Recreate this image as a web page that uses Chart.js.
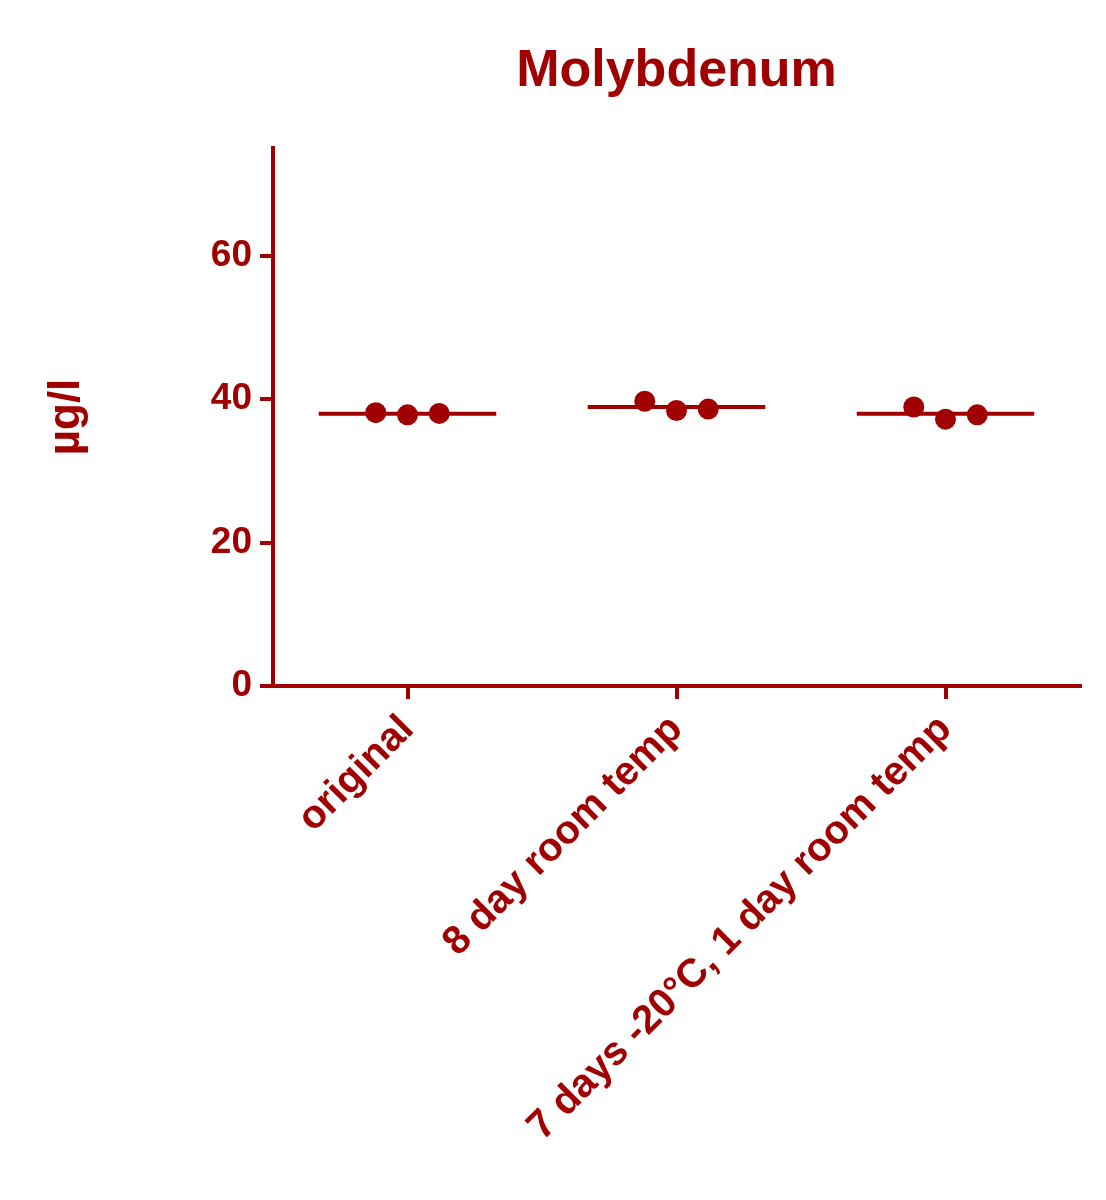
<!DOCTYPE html>
<html>
<head>
<meta charset="utf-8">
<script src="https://cdn.jsdelivr.net/npm/chart.js@4/dist/chart.umd.min.js"></script>
<style>
  html, body { margin: 0; padding: 0; background: #fff; }
  #wrap { width: 1106px; height: 1200px; }
</style>
</head>
<body>
<div id="wrap"><canvas id="chart" width="1106" height="1200"></canvas></div>
<script>
// values
const categories = ["original", "8 day room temp", "7 days -20°C, 1 day room temp"]
const originalValues = [38.1, 37.8, 38.0]
const roomTempValues = [39.7, 38.4, 38.6]
const frozenValues = [38.9, 37.2, 37.8]
const yTickValues = [0, 20, 40, 60]
const yMax = 75

const groups = [originalValues, roomTempValues, frozenValues]

const red = "#a00000"
const font = "'Liberation Sans', Arial, sans-serif"
const jitter = [-0.118, 0, 0.118]
const meanHalfWidth = 0.33

const mean = (values) => values.reduce((a, b) => a + b, 0) / values.length

const dotDataset = {
  type: "scatter",
  data: groups.flatMap((values, i) => values.map((v, j) => ({ x: i + jitter[j], y: v }))),
  backgroundColor: red,
  borderColor: red,
  pointRadius: 10.5,
  pointHoverRadius: 10.5,
  borderWidth: 0,
  order: 1,
}

const meanDatasets = groups.map((values, i) => ({
  type: "line",
  data: [
    { x: i - meanHalfWidth, y: mean(values) },
    { x: i + meanHalfWidth, y: mean(values) },
  ],
  borderColor: red,
  borderWidth: 4,
  pointRadius: 0,
  fill: false,
  order: 2,
}))

new Chart(document.getElementById("chart"), {
  type: "scatter",
  data: { datasets: [dotDataset, ...meanDatasets] },
  options: {
    responsive: false,
    animation: false,
    layout: { padding: { left: 20, right: 26, top: 0, bottom: 10 } },
    plugins: {
      legend: { display: false },
      tooltip: { enabled: false },
      title: {
        display: true,
        text: "Molybdenum",
        color: red,
        fullSize: false,
        font: { family: font, size: 52, weight: "bold" },
        padding: { top: 40, bottom: 45.6 },
      },
    },
    scales: {
      x: {
        type: "linear",
        min: -0.5,
        max: 2.5,
        afterBuildTicks: (scale) => {
          scale.ticks = categories.map((c, i) => ({ value: i }))
        },
        afterFit: (scale) => {
          scale.height = 1200 - 686 - 10
        },
        grid: {
          drawOnChartArea: false,
          drawTicks: true,
          tickLength: 13,
          color: red,
          lineWidth: 4,
        },
        border: { display: true, color: red, width: 4 },
        ticks: {
          autoSkip: false,
          minRotation: 45,
          maxRotation: 45,
          padding: 7,
          color: red,
          font: { family: font, size: 40, weight: "bold" },
          callback: (value) => categories[value],
        },
      },
      y: {
        min: 0,
        max: yMax,
        afterBuildTicks: (scale) => {
          scale.ticks = yTickValues.map((v) => ({ value: v }))
        },
        afterFit: (scale) => {
          scale.width = 273 - 20
        },
        grid: {
          drawOnChartArea: false,
          drawTicks: true,
          tickLength: 13,
          color: red,
          lineWidth: 4,
        },
        border: { display: true, color: red, width: 4 },
        ticks: {
          padding: 8,
          color: red,
          font: { family: font, size: 37, weight: "bold" },
        },
        title: {
          display: true,
          text: "µg/l",
          color: red,
          font: { family: font, size: 44, weight: "bold" },
          padding: { top: 20, bottom: 0 },
        },
      },
    },
  },
})
</script>
</body>
</html>
